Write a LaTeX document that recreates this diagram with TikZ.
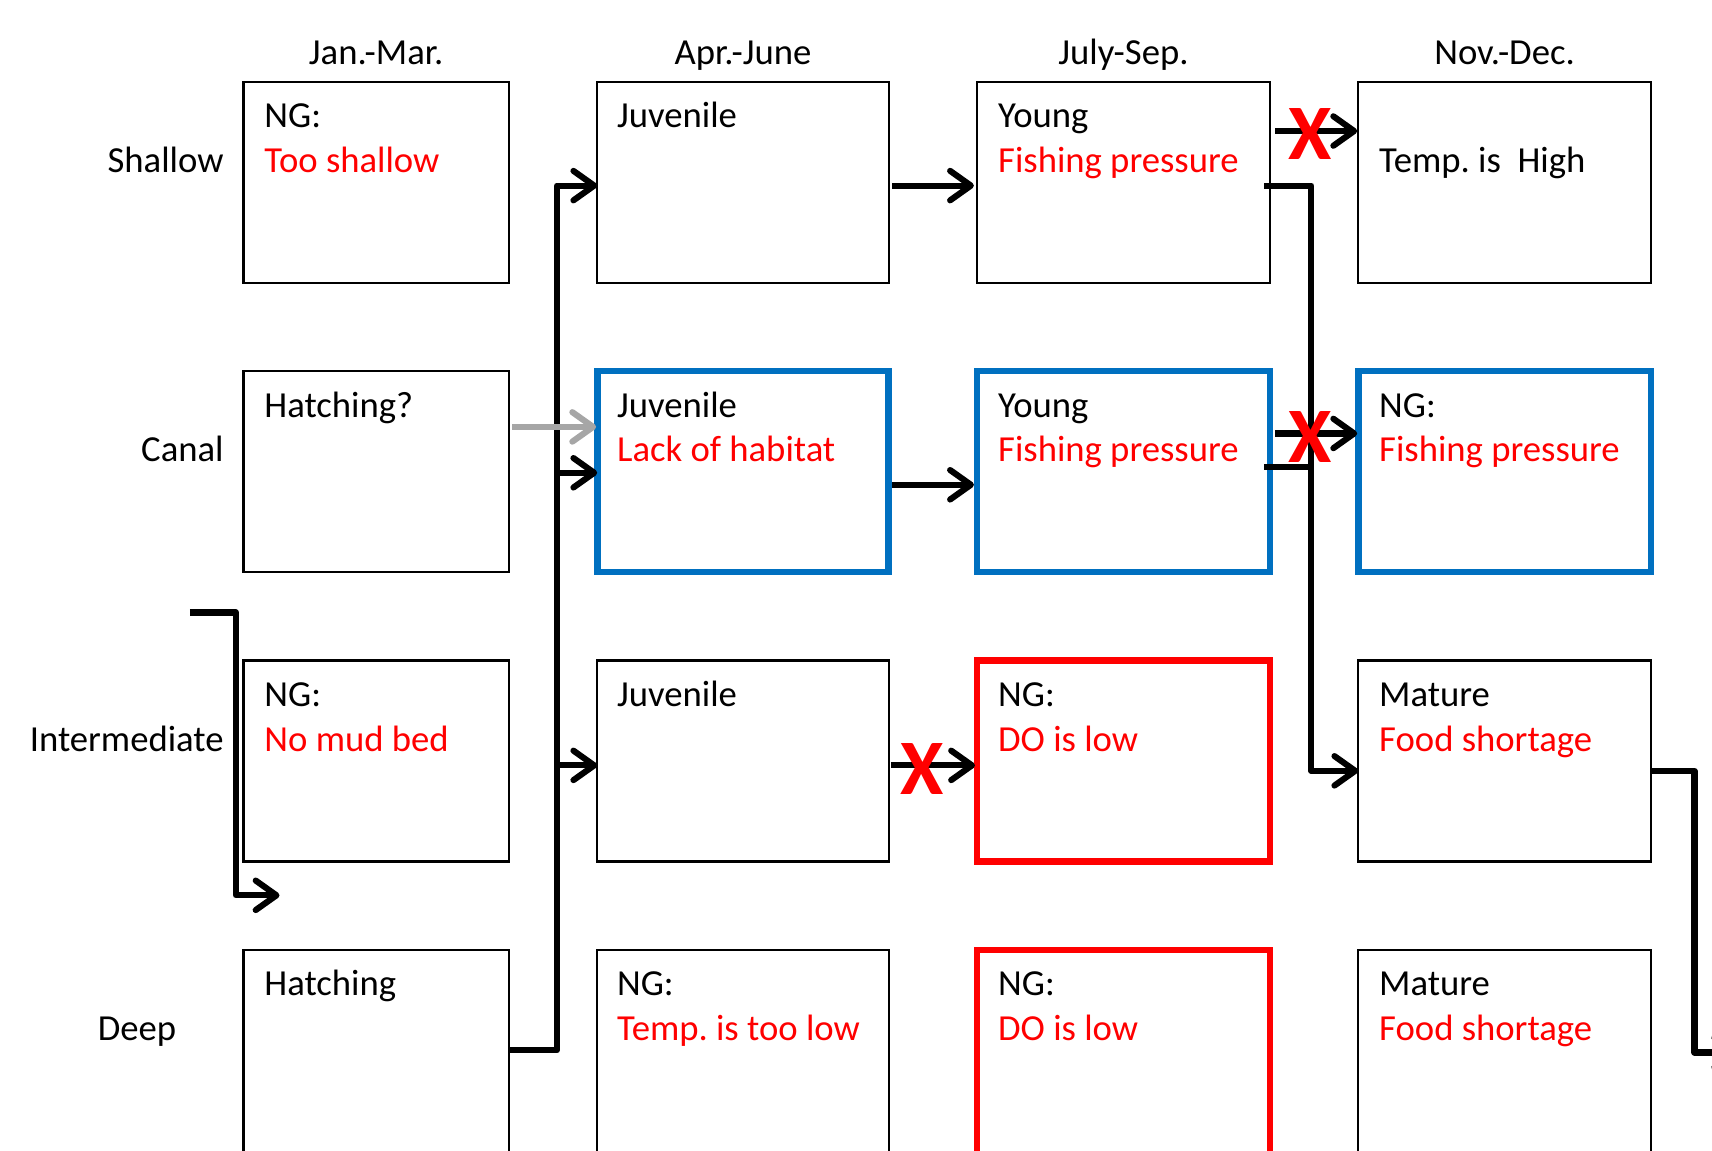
\documentclass[tikz,border=0pt]{standalone}
\usepackage{fontspec}
\setmainfont{Carlito}
\usetikzlibrary{arrows.meta,calc}
\definecolor{xred}{HTML}{FF0000}
\definecolor{xblue}{HTML}{0070C0}
\definecolor{xgray}{HTML}{A6A6A6}
\begin{document}
\begin{tikzpicture}[x=1pt,y=-1pt,
  box/.style={draw=black, line width=2.2pt, rectangle, inner sep=0pt, outer sep=0pt, anchor=north west, minimum height=184pt},
  bluebox/.style={box, draw=xblue, line width=6pt},
  redbox/.style={box, draw=xred, line width=6pt},
  tallbox/.style={minimum height=200pt},
  w1/.style={minimum width=243pt},
  w2/.style={minimum width=267pt},
  w3/.style={minimum width=268pt},
  w4/.style={minimum width=268pt},
  txt/.style={anchor=base west, inner sep=0pt, font=\fontsize{33.6}{40}\selectfont},
  rtxt/.style={txt, text=xred},
  lbl/.style={anchor=base east, inner sep=0pt, font=\fontsize{33.6}{40}\selectfont},
  hdr/.style={anchor=base, inner sep=0pt, font=\fontsize{33.6}{40}\selectfont},
  thk/.style={line width=5.6pt, line join=round},
  arr/.style={thk, -{Straight Barb[length=19pt,width=27pt,round]}},
  garr/.style={arr, draw=xgray},
  cross/.style={text=xred, font=\fontsize{72}{72}\selectfont\bfseries, inner sep=0pt, anchor=center}
]
\useasboundingbox (0,0) rectangle (1568,1053.3);
\clip (0,0) rectangle (1568,1053.3);

% headers
\node[hdr] (h1) at (344.5,58.9) {Jan.-Mar.};
\node[hdr] (h2) at (680.5,58.9) {Apr.-June};
\node[hdr] (h3) at (1029,58.9) {July-Sep.};
\node[hdr] (h4) at (1378,58.9) {Nov.-Dec.};

% row labels
\node[lbl] (r1) at (205,158) {Shallow};
\node[lbl] (r2) at (205,423) {Canal};
\node[lbl] (r3) at (205,688) {Intermediate};
\node[lbl] (r4) at (161.5,953) {Deep};

% boxes
\node[box,w1] (b11) at (223,75) {};
\node[box,w2] (b12) at (547,75) {};
\node[box,w3] (b13) at (895,75) {};
\node[box,w4] (b14) at (1244,75) {};

\node[box,w1] (b21) at (223,340) {};
\node[bluebox,w2] (b22) at (547,340) {};
\node[bluebox,w3] (b23) at (895,340) {};
\node[bluebox,w4] (b24) at (1244,340) {};

\node[box,w1] (b31) at (223,605) {};
\node[box,w2] (b32) at (547,605) {};
\node[redbox,w3] (b33) at (895,605) {};
\node[box,w4] (b34) at (1244,605) {};

\node[box,w1,tallbox] (b41) at (223,870) {};
\node[box,w2,tallbox] (b42) at (547,870) {};
\node[redbox,w3,tallbox] (b43) at (895,870) {};
\node[box,w4,tallbox] (b44) at (1244,870) {};

% box texts
\node[txt]  (t11a) at ($(b11.north west)+(19,42)$) {NG:};
\node[rtxt] (t11b) at ($(b11.north west)+(19,83)$) {Too shallow};
\node[txt]  (t12a) at ($(b12.north west)+(18,42)$) {Juvenile};
\node[txt]  (t13a) at ($(b13.north west)+(19,42)$) {Young};
\node[rtxt] (t13b) at ($(b13.north west)+(19,83)$) {Fishing pressure};
\node[txt]  (t14b) at ($(b14.north west)+(19,83)$) {Temp.\ is\ \ High};

\node[txt]  (t21a) at ($(b21.north west)+(19,42)$) {Hatching?};
\node[txt]  (t22a) at ($(b22.north west)+(18,42)$) {Juvenile};
\node[rtxt] (t22b) at ($(b22.north west)+(18,83)$) {Lack of habitat};
\node[txt]  (t23a) at ($(b23.north west)+(19,42)$) {Young};
\node[rtxt] (t23b) at ($(b23.north west)+(19,83)$) {Fishing pressure};
\node[txt]  (t24a) at ($(b24.north west)+(19,42)$) {NG:};
\node[rtxt] (t24b) at ($(b24.north west)+(19,83)$) {Fishing pressure};

\node[txt]  (t31a) at ($(b31.north west)+(19,42)$) {NG:};
\node[rtxt] (t31b) at ($(b31.north west)+(19,83)$) {No mud bed};
\node[txt]  (t32a) at ($(b32.north west)+(18,42)$) {Juvenile};
\node[txt]  (t33a) at ($(b33.north west)+(19,42)$) {NG:};
\node[rtxt] (t33b) at ($(b33.north west)+(19,83)$) {DO is low};
\node[txt]  (t34a) at ($(b34.north west)+(19,42)$) {Mature};
\node[rtxt] (t34b) at ($(b34.north west)+(19,83)$) {Food shortage};

\node[txt]  (t41a) at ($(b41.north west)+(19,42)$) {Hatching};
\node[txt]  (t42a) at ($(b42.north west)+(18,42)$) {NG:};
\node[rtxt] (t42b) at ($(b42.north west)+(18,83)$) {Temp.\ is too low};
\node[txt]  (t43a) at ($(b43.north west)+(19,42)$) {NG:};
\node[rtxt] (t43b) at ($(b43.north west)+(19,83)$) {DO is low};
\node[txt]  (t44a) at ($(b44.north west)+(19,42)$) {Mature};
\node[rtxt] (t44b) at ($(b44.north west)+(19,83)$) {Food shortage};

% junction coordinates
\coordinate (ja) at ($(b12.north west)+(-37,95)$);
\coordinate (jb) at ($(b34.north west)+(-43,101)$);

% trunk from Deep hatching
\draw[arr] ($(b41.north east)+(0,92)$) -| (ja) -- ($(b12.north west)+(0,95)$);
\draw[arr] ($(b22.north west)+(-37,93)$) -- ($(b22.north west)+(0,93)$);
\draw[arr] ($(b32.north west)+(-37,96)$) -- ($(b32.north west)+(0,96)$);
% gray arrow
\draw[garr] ($(b21.north east)+(3,51)$) -- ($(b22.north west)+(-1,51)$);

% column 2 -> column 3
\draw[arr] ($(b12.north east)+(3,95)$) -- ($(b13.north west)+(-3,95)$);
\draw[arr] ($(b22.north east)+(3,104)$) -- ($(b23.north west)+(-3,104)$);
\draw[arr] ($(b32.north east)+(2,96)$) -- ($(b33.north west)+(-2,96)$);

% column 3 -> column 4
\draw[arr] ($(b13.north east)+(5,45)$) -- ($(b14.north west)+(-1,45)$);
\draw[arr] ($(b23.north east)+(5,57)$) -- ($(b24.north west)+(-1,57)$);

% young shallow -> mature intermediate
\draw[arr] ($(b13.north east)+(-5,95)$) -| (jb) -- ($(b34.north west)+(0,101)$);
\draw[thk] ($(b23.north east)+(-5,88)$) -- ($(b34.north west)+(-40.5,-177)$);

% mature intermediate -> off page
\coordinate (jc) at ($(b34.north east)+(40,359)$);
\draw[arr] ($(b34.north east)+(0,101)$) -| (jc) -- ($(jc)+(40,0)$);

% left arrow
\coordinate (jl) at ($(b31.north west)+(-49,-44)$);
\draw[arr] (jl) -| ($(b31.north west)+(-7,215)$) -- ($(b31.north west)+(33,215)$);

% crosses
\node[cross] (x1) at (1200,123) {X};
\node[cross] (x2) at (1200,400) {X};
\node[cross] (x3) at (845,704) {X};
\end{tikzpicture}
\end{document}
